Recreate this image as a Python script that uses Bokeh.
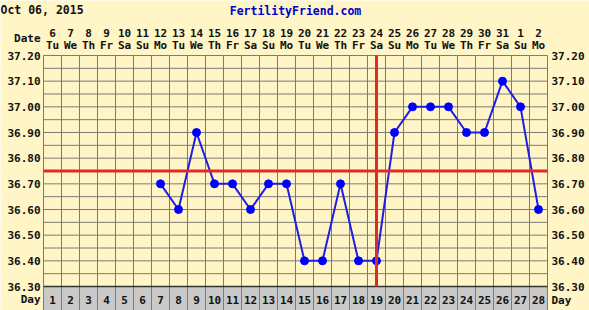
from bokeh.plotting import figure
from bokeh.models import Range1d, ColumnDataSource
from bokeh.core.properties import value
from bokeh.embed import file_html
from bokeh.resources import INLINE

# ---------------- data ----------------
title_date = "Oct 06, 2015"
site = "FertilityFriend.com"
cycle_days = list(range(1, 29))
dates = ["6", "7", "8", "9", "10", "11", "12", "13", "14", "15", "16", "17", "18", "19",
         "20", "21", "22", "23", "24", "25", "26", "27", "28", "29", "30", "31", "1", "2"]
weekdays = ["Tu", "We", "Th", "Fr", "Sa", "Su", "Mo"] * 4
temp_days = [7, 8, 9, 10, 11, 12, 13, 14, 15, 16, 17, 18, 19, 20, 21, 22, 23, 24, 25, 26, 27, 28]
temps = [36.70, 36.60, 36.90, 36.70, 36.70, 36.60, 36.70, 36.70, 36.40, 36.40, 36.70,
         36.40, 36.40, 36.90, 37.00, 37.00, 37.00, 36.90, 36.90, 37.10, 37.00, 36.60]
temp_ticks = [36.30, 36.40, 36.50, 36.60, 36.70, 36.80, 36.90, 37.00, 37.10, 37.20]
coverline = 36.75
ovulation_day = 19

# ---------------- layout (pixels) ----------------
W, H = 589, 310
FL, FR, FT, FB = 43, 547, 55, 286   # grid frame in pixels
ncol = len(cycle_days)
px_day = (FR - FL) / ncol
tmin, tmax = temp_ticks[0], temp_ticks[-1]
px_deg = (FB - FT) / (tmax - tmin)
x0 = cycle_days[0] - 0.5
x1 = cycle_days[-1] + 0.5
xr = Range1d(x0 - FL / px_day, x1 + (W - FR) / px_day)
yr = Range1d(tmin - (H - FB) / px_deg, tmax + FT / px_deg)

BG = "#FFF5C6"
GRID = "#7C7C74"
GRAY = "#C9C9C9"
RED = "#E02A22"
BLUE = "#1E1EE6"
FONT = value("DejaVu Sans Mono")

p = figure(width=W, height=H, x_range=xr, y_range=yr, output_backend="svg",
           toolbar_location=None, x_axis_location=None, y_axis_location=None,
           min_border=0, min_border_left=0, min_border_right=0,
           min_border_top=0, min_border_bottom=0)
p.grid.visible = False
p.outline_line_color = None
p.background_fill_color = BG
p.border_fill_color = BG

# Day row gray cells
p.quad(left=[d - 0.5 for d in cycle_days], right=[d + 0.5 for d in cycle_days],
       top=tmin, bottom=yr.start, fill_color=GRAY, line_color=GRID, line_width=1)

# grid lines
vx = [x0 + i for i in range(ncol + 1)]
p.segment(x0=vx, x1=vx, y0=tmin, y1=tmax, line_color=GRID, line_width=1)
nh = int(round((tmax - tmin) / 0.05))
hy = [tmin + 0.05 * i for i in range(nh + 1)]
p.segment(x0=x0, x1=x1, y0=hy, y1=hy, line_color=GRID, line_width=1)
p.segment(x0=x0, x1=x1, y0=tmin, y1=tmin, line_color="#333333", line_width=1.5)

# temperature curve
src = ColumnDataSource(dict(x=temp_days, y=temps))
p.line("x", "y", source=src, line_color=BLUE, line_width=2)
p.scatter("x", "y", source=src, size=8, fill_color="#0000FF", line_color="#0000FF")

# coverline and ovulation line
p.segment(x0=x0, x1=x1, y0=coverline, y1=coverline, line_color=RED, line_width=3)
p.segment(x0=ovulation_day, x1=ovulation_day, y0=tmin, y1=tmax, line_color=RED, line_width=3)

# temperature labels left and right
lbl = ["%.2f" % t for t in temp_ticks]
p.text(x=[x0] * len(temp_ticks), y=temp_ticks, text=lbl, x_offset=-3,
       text_align="right", text_baseline="middle", text_font=FONT,
       text_font_style="bold", text_font_size="11px", text_color="#111111")
p.text(x=[x1] * len(temp_ticks), y=temp_ticks, text=lbl, x_offset=4,
       text_align="left", text_baseline="middle", text_font=FONT,
       text_font_style="bold", text_font_size="11px", text_color="#111111")

# date header rows
p.text(x=cycle_days, y=[tmax] * ncol, text=dates, y_offset=-23,
       text_align="center", text_baseline="middle", text_font=FONT,
       text_font_style="bold", text_font_size="11px", text_color="#111111")
p.text(x=cycle_days, y=[tmax] * ncol, text=weekdays, y_offset=-10,
       text_align="center", text_baseline="middle", text_font=FONT,
       text_font_style="bold", text_font_size="11px", text_color="#111111")
p.text(x=[x0], y=[tmax], text=["Date"], x_offset=-3, y_offset=-17,
       text_align="right", text_baseline="middle", text_font=FONT,
       text_font_style="bold", text_font_size="11px", text_color="#111111")

# day row
p.text(x=cycle_days, y=[tmin] * ncol, text=[str(d) for d in cycle_days], y_offset=13,
       text_align="center", text_baseline="middle", text_font=FONT,
       text_font_style="bold", text_font_size="11px", text_color="#111111")
p.text(x=[x0], y=[tmin], text=["Day"], x_offset=-3, y_offset=13,
       text_align="right", text_baseline="middle", text_font=FONT,
       text_font_style="bold", text_font_size="11px", text_color="#111111")
p.text(x=[x1], y=[tmin], text=["Day"], x_offset=4, y_offset=14,
       text_align="left", text_baseline="middle", text_font=FONT,
       text_font_style="bold", text_font_size="11px", text_color="#111111")

# title texts
p.text(x=[xr.start], y=[yr.end], text=[title_date], x_offset=0, y_offset=9,
       text_align="left", text_baseline="middle", text_font=FONT,
       text_font_style="bold", text_font_size="11.5px", text_color="#111111")
p.text(x=[(x0 + x1) / 2], y=[yr.end], text=[site], y_offset=10,
       text_align="center", text_baseline="middle", text_font=FONT,
       text_font_style="bold", text_font_size="11.5px", text_color="#0000CC")

open("out.html", "w").write(file_html(p, INLINE))
